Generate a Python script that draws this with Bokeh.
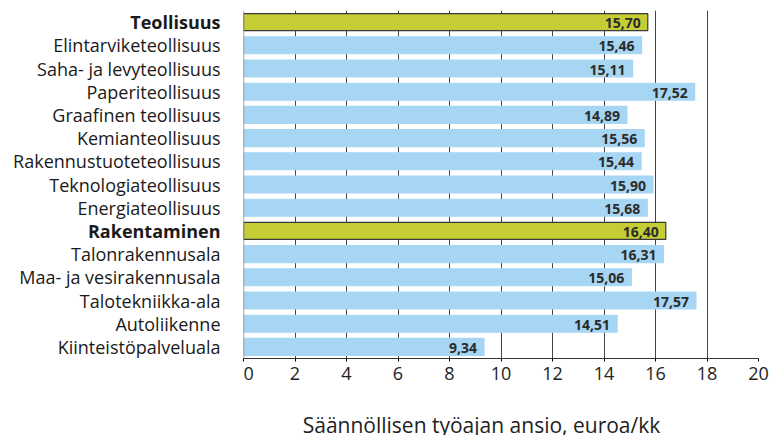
from bokeh.plotting import figure
from bokeh.models import ColumnDataSource, LabelSet, FactorRange, FixedTicker, Span
from bokeh.layouts import row, column
from bokeh.core.properties import value
from bokeh.embed import file_html
from bokeh.resources import INLINE

categories = ["Teollisuus", "Elintarviketeollisuus", "Saha- ja levyteollisuus", "Paperiteollisuus",
              "Graafinen teollisuus", "Kemianteollisuus", "Rakennustuoteteollisuus",
              "Teknologiateollisuus", "Energiateollisuus", "Rakentaminen", "Talonrakennusala",
              "Maa- ja vesirakennusala", "Talotekniikka-ala", "Autoliikenne", "Kiinteistöpalveluala"]
values = [15.70, 15.46, 15.11, 17.52, 14.89, 15.56, 15.44, 15.90, 15.68, 16.40, 16.31, 15.06, 17.57, 14.51, 9.34]
is_total = [True, False, False, False, False, False, False, False, False, True, False, False, False, False, False]
x_ticks = [0, 2, 4, 6, 8, 10, 12, 14, 16, 18, 20]
x_title = "Säännöllisen työajan ansio, euroa/kk"

FONT = "Open Sans"
BLUE = "#A6D6F3"
GREEN = "#C5CD35"
H = 405
TOP = 10
BOTTOM = 47

src = ColumnDataSource(dict(
    cat=categories,
    val=values,
    lab=[f"{v:.2f}".replace(".", ",") for v in values],
    fill=[GREEN if t else BLUE for t in is_total],
    line=["#3a3a3a" if t else BLUE for t in is_total],
    fstyle=["bold" if t else "normal" for t in is_total],
    lx=[220] * len(values),
))
title_src = ColumnDataSource(dict(x=[481], y=[11], t=[x_title]))

yr = FactorRange(factors=list(reversed(categories)), range_padding=0)

# left panel with category labels
pl = figure(width=243, height=H, output_backend="svg", toolbar_location=None,
            y_range=yr, x_range=(0, 243),
            min_border_left=0, min_border_right=0, min_border_top=TOP, min_border_bottom=BOTTOM)
pl.xaxis.visible = False
pl.yaxis.visible = False
pl.grid.grid_line_color = None
pl.outline_line_color = None
pl.text(x="lx", y="cat", text="cat", source=src, text_align="right", text_baseline="middle",
        text_font=value(FONT), text_font_size="18px", text_color="#1a1a1a",
        text_font_style="fstyle")

# main chart
p = figure(width=528, height=H, output_backend="svg", toolbar_location=None,
           y_range=yr, x_range=(0, 20),
           min_border_left=0, min_border_right=13, min_border_top=TOP, min_border_bottom=BOTTOM)
p.outline_line_color = None
p.yaxis.visible = False

p.hbar(y="cat", right="val", left=0, height=0.73, fill_color="fill", line_color="line",
       line_width=1.2, source=src)

p.add_layout(Span(location=0, dimension="height", line_color="#888888", line_width=1.5))

p.add_layout(LabelSet(x="val", y="cat", text="lab", source=src, x_offset=-7, y_offset=-1,
                      text_align="right", text_baseline="middle", text_font=value(FONT),
                      text_font_size="14px", text_color="#2b2b2b", text_font_style="bold"))

p.xaxis.ticker = FixedTicker(ticks=x_ticks)
p.xaxis.major_label_text_font = FONT
p.xaxis.major_label_text_font_size = "18px"
p.xaxis.major_label_text_color = "#222222"
p.xaxis.major_label_standoff = 5
p.xaxis.major_tick_in = 0
p.xaxis.major_tick_out = 3
p.xaxis.minor_tick_line_color = None
p.xaxis.axis_line_color = "#333333"

p.ygrid.grid_line_color = None
p.xgrid.grid_line_color = "#444444"
p.xgrid.grid_line_width = 1

# axis title strip
pt = figure(width=771, height=30, output_backend="svg", toolbar_location=None,
            x_range=(0, 771), y_range=(0, 30),
            min_border_left=0, min_border_right=0, min_border_top=0, min_border_bottom=0)
pt.axis.visible = False
pt.grid.grid_line_color = None
pt.outline_line_color = None
pt.text(x="x", y="y", text="t", source=title_src, text_align="center", text_baseline="middle",
        text_font=value(FONT), text_font_size="21px", text_color="#222222")

layout = column(row(pl, p, spacing=0), pt, spacing=0)
open("out.html", "w").write(file_html(layout, INLINE))
